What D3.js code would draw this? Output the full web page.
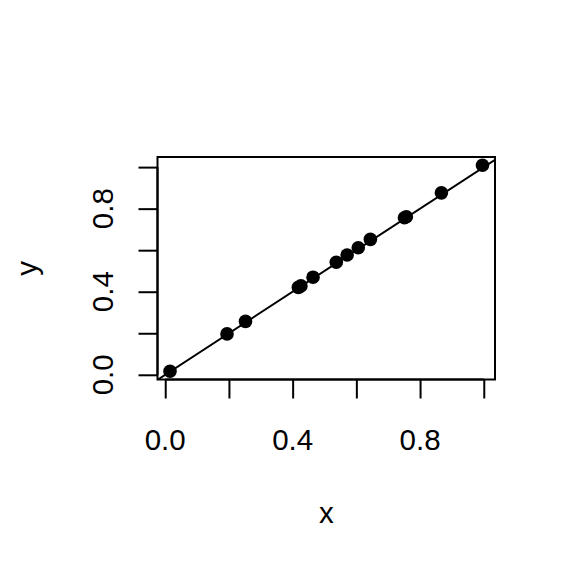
<!DOCTYPE html>
<html>
<head>
<meta charset="utf-8">
<script src="https://cdn.jsdelivr.net/npm/d3@7"></script>
<style>
  body { margin: 0; background: #fff; }
  text { font-family: "Liberation Sans", Arial, sans-serif; }
</style>
</head>
<body>
<svg width="576" height="576"></svg>
<script>
// Scatter of y against x with a y = x reference line

// Data
let xValues = [0.015, 0.194, 0.252, 0.418, 0.426, 0.464, 0.537, 0.571, 0.606, 0.644, 0.751, 0.757, 0.867, 0.996];
let yValues = [0.017, 0.197, 0.257, 0.421, 0.428, 0.470, 0.542, 0.577, 0.612, 0.652, 0.756, 0.761, 0.876, 1.009];
let xTicks = [0, 0.2, 0.4, 0.6, 0.8, 1.0];
let yTicks = [0, 0.2, 0.4, 0.6, 0.8, 1.0];
let xTickLabels = [0, 0.4, 0.8];
let yTickLabels = [0, 0.4, 0.8];
let lineCoef = {intercept: 0, slope: 1};

let svg = d3.select('svg');
let plot = {left: 157.5, right: 495, top: 157, bottom: 379.5};
let fontSize = 29.5;

// R style axis range: data range padded 4% each side
function rRange(vals) {
    let ext = d3.extent(vals);
    let pad = (ext[1] - ext[0]) * 0.04;
    return [ext[0] - pad, ext[1] + pad];
}

let x = d3.scaleLinear().domain(rRange(xValues)).range([plot.left, plot.right]);
let y = d3.scaleLinear().domain(rRange(yValues)).range([plot.bottom, plot.top]);

let points = xValues.map((d, i) => ({x: d, y: yValues[i]}));

// Clip for the fitted line
svg.append('clipPath').attr('id', 'clip')
    .append('rect')
    .attr('x', plot.left).attr('y', plot.top)
    .attr('width', plot.right - plot.left)
    .attr('height', plot.bottom - plot.top);

// Points
svg.append('g').selectAll('circle')
    .data(points)
    .enter().append('circle')
    .attr('cx', d => x(d.x))
    .attr('cy', d => y(d.y))
    .attr('r', 6.8)
    .attr('fill', '#000');

// Reference line
let xd = x.domain();
svg.append('line')
    .attr('clip-path', 'url(#clip)')
    .attr('x1', x(xd[0])).attr('y1', y(lineCoef.intercept + lineCoef.slope * xd[0]))
    .attr('x2', x(xd[1])).attr('y2', y(lineCoef.intercept + lineCoef.slope * xd[1]))
    .attr('stroke', '#000')
    .attr('stroke-width', 2);

// Box
svg.append('rect')
    .attr('x', plot.left).attr('y', plot.top)
    .attr('width', plot.right - plot.left)
    .attr('height', plot.bottom - plot.top)
    .attr('fill', 'none')
    .attr('stroke', '#000')
    .attr('stroke-width', 2);

// x axis
let xAxis = svg.append('g')
    .attr('transform', 'translate(0,' + plot.bottom + ')')
    .call(d3.axisBottom(x).tickValues(xTicks).tickSize(19).tickFormat(''));
xAxis.select('.domain').remove();
xAxis.selectAll('line').attr('stroke-width', 2);
svg.append('line')
    .attr('x1', x(xTicks[0])).attr('x2', x(xTicks[xTicks.length - 1]))
    .attr('y1', plot.bottom).attr('y2', plot.bottom)
    .attr('stroke', '#000').attr('stroke-width', 2);

svg.append('g').selectAll('text')
    .data(xTickLabels)
    .enter().append('text')
    .attr('x', d => x(d))
    .attr('y', 450)
    .attr('text-anchor', 'middle')
    .attr('font-size', fontSize)
    .text(d => d3.format('.1f')(d));

// y axis
let yAxis = svg.append('g')
    .attr('transform', 'translate(' + plot.left + ',0)')
    .call(d3.axisLeft(y).tickValues(yTicks).tickSize(19).tickFormat(''));
yAxis.select('.domain').remove();
yAxis.selectAll('line').attr('stroke-width', 2);
svg.append('line')
    .attr('y1', y(yTicks[0])).attr('y2', y(yTicks[yTicks.length - 1]))
    .attr('x1', plot.left).attr('x2', plot.left)
    .attr('stroke', '#000').attr('stroke-width', 2);

svg.append('g').selectAll('text')
    .data(yTickLabels)
    .enter().append('text')
    .attr('transform', d => 'translate(113,' + y(d) + ') rotate(-90)')
    .attr('text-anchor', 'middle')
    .attr('font-size', fontSize)
    .text(d => d3.format('.1f')(d));

// Axis titles
svg.append('text')
    .attr('x', (plot.left + plot.right) / 2)
    .attr('y', 523)
    .attr('text-anchor', 'middle')
    .attr('font-size', fontSize)
    .text('x');

svg.append('text')
    .attr('transform', 'translate(37,' + (plot.top + plot.bottom) / 2 + ') rotate(-90)')
    .attr('text-anchor', 'middle')
    .attr('font-size', fontSize)
    .text('y');
</script>
</body>
</html>
